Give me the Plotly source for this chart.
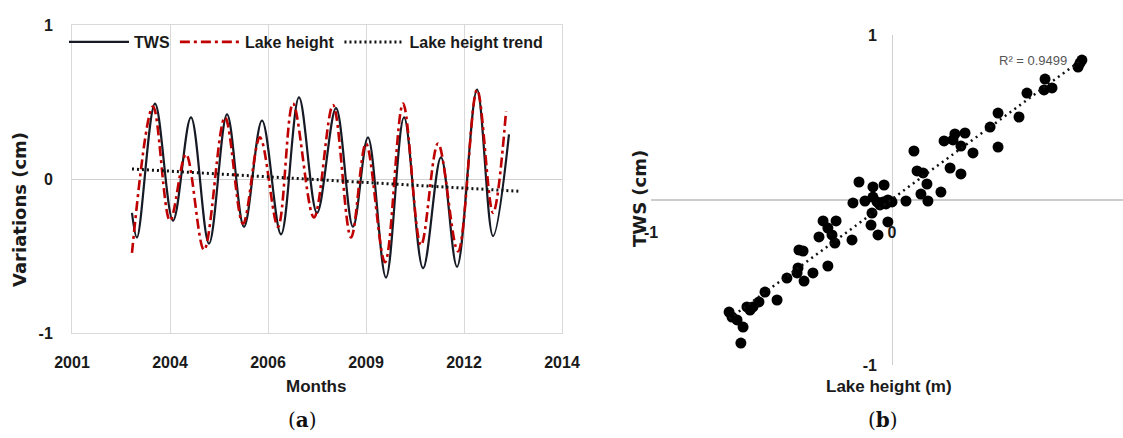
import numpy as np
import plotly.graph_objects as go

W, H = 1123, 438

# ---- panel (a): time series (x in category-axis units, labelled by year) ----
year_labels = ["2001", "2004", "2006", "2009", "2012", "2014"]
year_pos = [0, 1, 2, 3, 4, 5]

tws_t = [0.612, 0.663, 0.847, 1.031, 1.214, 1.398, 1.582, 1.755, 1.939, 2.133,
         2.316, 2.500, 2.694, 2.867, 3.020, 3.204, 3.388, 3.582, 3.765, 3.929,
         4.133, 4.296, 4.459]
tws_v = [-0.22, -0.38, 0.49, -0.27, 0.40, -0.42, 0.42, -0.31, 0.38, -0.36,
         0.53, -0.22, 0.46, -0.31, 0.27, -0.64, 0.40, -0.58, 0.14, -0.57,
         0.58, -0.37, 0.29]

lake_t = [0.612, 0.827, 1.000, 1.163, 1.347, 1.561, 1.745, 1.918, 2.102, 2.255,
          2.469, 2.663, 2.847, 3.000, 3.194, 3.378, 3.561, 3.735, 3.939, 4.133,
          4.296, 4.429]
lake_v = [-0.48, 0.47, -0.27, 0.16, -0.46, 0.40, -0.29, 0.27, -0.31, 0.49,
          -0.25, 0.48, -0.38, 0.23, -0.54, 0.49, -0.43, 0.23, -0.47, 0.58,
          -0.22, 0.44]

trend_t = [0.612, 4.571]
trend_v = [0.065, -0.080]

# ---- panel (b): scatter of lake height vs TWS ----
lake_h = [0.780, 0.772, 0.788, 0.635, 0.631, 0.664, 0.560, 0.527, 0.440, 0.407,
          0.440, 0.336, 0.303, 0.261, 0.253, 0.216, 0.286, 0.286, 0.241, 0.091,
          0.104, 0.129, 0.145, 0.120, 0.149, 0.203, 0.058, -0.033, -0.137, -0.079,
          -0.162, -0.112, -0.079, -0.062, -0.037, -0.017, 0.000, -0.025, -0.050, -0.083,
          -0.087, -0.058, -0.017, -0.166, -0.286, -0.232, -0.266, -0.249, -0.237, -0.303,
          -0.386, -0.369, -0.390, -0.394, -0.365, -0.328, -0.266, -0.436, -0.477, -0.527,
          -0.552, -0.577, -0.589, -0.602, -0.676, -0.664, -0.643, -0.618, -0.627]
tws_s = [0.830, 0.806, 0.848, 0.733, 0.667, 0.679, 0.648, 0.503, 0.527, 0.442,
         0.321, 0.285, 0.406, 0.400, 0.364, 0.358, 0.327, 0.158, 0.194, 0.297,
         0.176, 0.164, 0.097, 0.036, -0.006, 0.048, -0.006, 0.091, 0.109, 0.079,
         -0.018, -0.006, 0.018, -0.012, -0.012, 0.000, -0.012, -0.024, -0.030, -0.079,
         -0.152, -0.212, -0.133, -0.242, -0.127, -0.127, -0.170, -0.212, -0.261, -0.224,
         -0.303, -0.309, -0.412, -0.442, -0.491, -0.442, -0.400, -0.473, -0.606, -0.558,
         -0.618, -0.648, -0.667, -0.648, -0.679, -0.709, -0.727, -0.770, -0.867]
r2_label = "R² = 0.9499"

# linear fit of TWS on lake height
slope, intercept = np.polyfit(lake_h, tws_s, 1)
fit_x = np.array([min(lake_h), max(lake_h)])
fit_y = slope * fit_x + intercept

GRID = "#d9d9d9"
NARROW = "Liberation Sans Narrow, Liberation Sans, Arial"


def px(x):
    return x / W


def py(y):
    return 1 - y / H


fig = go.Figure()

fig.add_trace(go.Scatter(
    x=tws_t, y=tws_v, name="TWS", mode="lines",
    line=dict(color="#151a24", width=2.2, shape="spline", smoothing=1.0),
    xaxis="x", yaxis="y"))
fig.add_trace(go.Scatter(
    x=lake_t, y=lake_v, name="Lake height", mode="lines",
    line=dict(color="#c00000", width=2.6, shape="spline", smoothing=1.0,
              dash="10px,4px,3px,4px"),
    xaxis="x", yaxis="y"))
fig.add_trace(go.Scatter(
    x=trend_t, y=trend_v, name="Lake height trend", mode="lines",
    line=dict(color="#111111", width=3, dash="2px,3px"),
    xaxis="x", yaxis="y"))

fig.add_trace(go.Scatter(
    x=lake_h, y=tws_s, mode="markers", showlegend=False,
    marker=dict(color="#000000", size=11),
    xaxis="x2", yaxis="y2"))
fig.add_trace(go.Scatter(
    x=fit_x, y=fit_y, mode="lines", showlegend=False,
    line=dict(color="#111111", width=2.5, dash="2px,4px"),
    xaxis="x2", yaxis="y2"))

tickfont = dict(family=NARROW, size=16, color="#1a1a1a", weight="bold")

fig.update_layout(
    width=W, height=H,
    margin=dict(l=0, r=0, t=0, b=0, autoexpand=False),
    paper_bgcolor="white", plot_bgcolor="white",
    showlegend=True,
    legend=dict(
        orientation="h", x=px(64), y=py(42), xanchor="left", yanchor="middle",
        font=dict(family=NARROW, size=16, color="#1a1a1a", weight="bold"),
        itemwidth=60, bgcolor="rgba(0,0,0,0)", tracegroupgap=0,
    ),
    xaxis=dict(
        domain=[px(72), px(562)], range=[0, 5], anchor="y", automargin=False,
        tickvals=year_pos, ticktext=year_labels, tickfont=tickfont,
        showgrid=True, gridcolor=GRID, gridwidth=1, zeroline=False,
        showline=True, mirror=True, linecolor=GRID, ticks="",
        ticklabelstandoff=15,
    ),
    yaxis=dict(
        domain=[py(333), py(25)], range=[-1, 1], anchor="x", automargin=False,
        tickvals=[-1, 0, 1], ticktext=["-1", "0", "1"], tickfont=tickfont,
        showgrid=True, gridcolor=GRID, zeroline=True, zerolinecolor="#cfcfcf",
        zerolinewidth=1, showline=True, mirror=True, linecolor=GRID, ticks="",
        ticklabelstandoff=15,
    ),
    xaxis2=dict(
        domain=[px(651), 1.0], range=[-1, 0.9585], anchor="free", position=py(221),
        automargin=False,
        tickvals=[-1, 0], ticktext=["-1", "0"], tickfont=tickfont,
        showgrid=True, gridcolor="#d0d0d0", zeroline=False, showline=False, ticks="",
    ),
    yaxis2=dict(
        domain=[py(365), py(35)], range=[-1, 1], anchor="free", position=px(892),
        automargin=False,
        tickvals=[-1, 1], ticktext=["-1", "1"], tickfont=tickfont,
        showgrid=True, gridcolor=GRID, zeroline=True, zerolinecolor="#cccccc",
        zerolinewidth=2, showline=False, ticks="", ticklabelstandoff=15,
    ),
)

ann = [
    dict(text="Variations (cm)", x=px(20), y=py(210), textangle=-90,
         font=dict(family="DejaVu Sans", size=18, color="#1a1a1a", weight="bold")),
    dict(text="Months", x=px(316), y=py(386),
         font=dict(family=NARROW, size=17, color="#1a1a1a", weight="bold")),
    dict(text="(<b>a</b>)", x=px(302), y=py(420),
         font=dict(family="DejaVu Serif", size=20, color="#111111")),
    dict(text="TWS (cm)", x=px(639), y=py(199), textangle=-90,
         font=dict(family="DejaVu Sans", size=18, color="#1a1a1a", weight="bold")),
    dict(text="Lake height (m)", x=px(889), y=py(386),
         font=dict(family=NARROW, size=17, color="#1a1a1a", weight="bold")),
    dict(text="(<b>b</b>)", x=px(883), y=py(420),
         font=dict(family="DejaVu Serif", size=20, color="#111111")),
    dict(text=r2_label, x=px(1033), y=py(60),
         font=dict(family=NARROW, size=13, color="#555555")),
]
for a in ann:
    a.update(xref="paper", yref="paper", showarrow=False,
             xanchor="center", yanchor="middle")
fig.update_layout(annotations=ann)

fig.write_html("out.html")
